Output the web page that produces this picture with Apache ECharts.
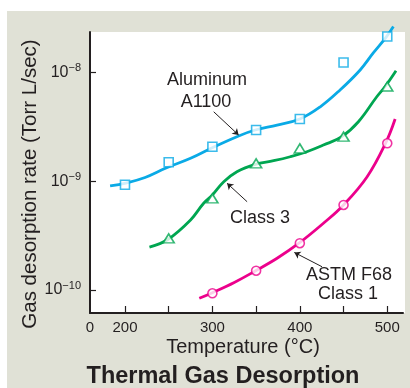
<!DOCTYPE html>
<html>
<head>
<meta charset="utf-8">
<script src="https://cdn.jsdelivr.net/npm/echarts@6/dist/echarts.min.js"></script>
<style>
  html, body { margin: 0; padding: 0; background: #fff; }
  #chart { width: 410px; height: 388px; }
</style>
</head>
<body>
<div id="chart"></div>
<script>
// Axis ticks / labels
const tempTicks = [200, 250, 300, 350, 400, 450, 500];
const tempLabels = [160, 200, 300, 400, 500]; // 160 is the axis origin, labelled "0"
const rateTicks = [1e-10, 1e-9, 1e-8];

// Aluminum A1100 (blue squares + fitted curve)
const aluminumT = [200, 250, 300, 350, 400, 450, 500];
const aluminumV = [9.3e-10, 1.5e-9, 2.08e-9, 2.97e-9, 3.75e-9, 1.24e-8, 2.15e-8];
const aluminumCurveT = [183, 201, 223, 247, 275, 301, 330, 349, 374, 400, 423, 446, 469, 484, 499, 507];
const aluminumCurveV = [9.08e-10, 9.66e-10, 1.086e-9, 1.327e-9, 1.63e-9, 2.06e-9, 2.62e-9, 2.97e-9,
  3.3e-9, 3.75e-9, 4.83e-9, 6.93e-9, 1.06e-8, 1.52e-8, 2.14e-8, 2.66e-8];

// Class 3 (green triangles + curve)
const class3T = [250, 300, 350, 400, 450, 500];
const class3V = [2.99e-10, 6.98e-10, 1.465e-9, 2.01e-9, 2.58e-9, 7.46e-9];
const class3CurveT = [228, 249, 275, 290, 300, 313, 328, 349, 370, 389, 408, 427, 448, 467, 488, 498, 510];
const class3CurveV = [2.48e-10, 2.92e-10, 4.42e-10, 6.3e-10, 7.5e-10, 9.93e-10, 1.227e-9, 1.435e-9,
  1.55e-9, 1.686e-9, 1.875e-9, 2.16e-9, 2.58e-9, 3.54e-9, 6.01e-9, 7.55e-9, 1.043e-8];

// ASTM F68 Class 1 (pink circles + curve)
const f68T = [300, 350, 400, 450, 500];
const f68V = [9.35e-11, 1.507e-10, 2.7e-10, 6.07e-10, 2.24e-9];
const f68CurveT = [285, 300, 325, 349, 374, 399, 427, 450, 477, 498, 509];
const f68CurveV = [8.41e-11, 9.46e-11, 1.175e-10, 1.5e-10, 1.963e-10, 2.7e-10, 4.12e-10, 6.07e-10,
  1.104e-9, 2.24e-9, 3.75e-9];

// Pointer arrows: [startT, startV, endT, endV]
const aluminumArrow = [301.5, 4.37e-9, 330, 2.67e-9];
const class3Arrow = [339.7, 6.5e-10, 316.8, 9.61e-10];
const f68Arrow = [425.4, 1.64e-10, 393.7, 2.22e-10];

const BLUE = '#0aaae6';
const GREEN = '#00a651';
const PINK = '#ec008c';
const INK = '#231f20';
const FONT = '"Liberation Sans", Arial, sans-serif';

const zip = (xs, ys) => xs.map((x, i) => [x, ys[i]]);

function curve(name, xs, ys, color, arrow) {
  return {
    name,
    type: 'line',
    data: zip(xs, ys),
    smooth: 0.4,
    symbol: 'none',
    clip: false,
    lineStyle: { color, width: 2.8 },
    z: 3,
    markLine: {
      silent: true,
      symbol: ['none', 'arrow'],
      symbolSize: 6,
      label: { show: false },
      lineStyle: { color: INK, width: 1, type: 'solid' },
      data: [[{ coord: [arrow[0], arrow[1]] }, { coord: [arrow[2], arrow[3]] }]],
    },
  };
}

function markers(name, xs, ys, color, symbol, size) {
  return {
    name,
    type: 'scatter',
    data: zip(xs, ys),
    symbol,
    symbolSize: size,
    clip: false,
    itemStyle: { color: '#fff', borderColor: color, borderWidth: 1.6 },
    z: 4,
  };
}

const chart = echarts.init(document.getElementById('chart'));

chart.setOption({
  animation: false,
  backgroundColor: '#fff',
  textStyle: { fontFamily: FONT },
  grid: { left: 90, right: 7, top: 32, bottom: 75 },
  graphic: [
    { type: 'rect', z: -10, silent: true, shape: { x: 7, y: 11, width: 403, height: 377 }, style: { fill: '#e0e1d6' } },
    { type: 'rect', z: -9, silent: true, shape: { x: 90, y: 32, width: 315, height: 281 }, style: { fill: '#fff' } },
    { type: 'text', x: 30, y: 184, rotation: Math.PI / 2,
      style: { text: 'Gas desorption rate (Torr L/sec)', font: '20.5px ' + FONT, fill: INK, align: 'center', verticalAlign: 'middle' } },
    { type: 'text', x: 243, y: 347,
      style: { text: 'Temperature (\u00B0C)', font: '20px ' + FONT, fill: INK, align: 'center', verticalAlign: 'middle' } },
    { type: 'text', x: 223, y: 377,
      style: { text: 'Thermal Gas Desorption', font: 'bold 23.5px ' + FONT, fill: INK, align: 'center', verticalAlign: 'middle' } },
    { type: 'text', x: 207, y: 80,
      style: { text: 'Aluminum', font: '18px ' + FONT, fill: INK, align: 'center', verticalAlign: 'middle' } },
    { type: 'text', x: 206, y: 102,
      style: { text: 'A1100', font: '18px ' + FONT, fill: INK, align: 'center', verticalAlign: 'middle' } },
    { type: 'text', x: 260, y: 218.5,
      style: { text: 'Class 3', font: '18px ' + FONT, fill: INK, align: 'center', verticalAlign: 'middle' } },
    { type: 'text', x: 349, y: 275,
      style: { text: 'ASTM F68', font: '18px ' + FONT, fill: INK, align: 'center', verticalAlign: 'middle' } },
    { type: 'text', x: 348, y: 294,
      style: { text: 'Class 1', font: '18px ' + FONT, fill: INK, align: 'center', verticalAlign: 'middle' } },
  ],
  xAxis: {
    type: 'value',
    min: 160,
    max: 518,
    axisLine: { show: true, lineStyle: { color: INK, width: 2 } },
    axisTick: { show: true, inside: true, length: 7, customValues: tempTicks, lineStyle: { color: INK, width: 1.2 } },
    axisLabel: {
      customValues: tempLabels,
      margin: 7,
      fontSize: 15,
      color: INK,
      formatter: v => (v === 160 ? '0' : String(v)),
    },
    splitLine: { show: false },
  },
  yAxis: {
    type: 'log',
    logBase: 10,
    min: 6.155e-11,
    max: 2.368e-8,
    axisLine: { show: true, lineStyle: { color: INK, width: 2 } },
    axisTick: { show: true, inside: true, length: 6, customValues: rateTicks, lineStyle: { color: INK, width: 1.2 } },
    axisLabel: {
      customValues: rateTicks,
      margin: 9,
      color: INK,
      formatter: v => '{b|10}{s|\u2212' + Math.round(-Math.log10(v)) + '}',
      rich: {
        b: { fontSize: 16, color: INK, lineHeight: 20 },
        s: { fontSize: 11, color: INK, verticalAlign: 'top', lineHeight: 20, padding: [0, 0, 10, 0] },
      },
    },
    splitLine: { show: false },
  },
  series: [
    curve('Aluminum A1100', aluminumCurveT, aluminumCurveV, BLUE, aluminumArrow),
    curve('Class 3', class3CurveT, class3CurveV, GREEN, class3Arrow),
    curve('ASTM F68 Class 1', f68CurveT, f68CurveV, PINK, f68Arrow),
    markers('Aluminum A1100 data', aluminumT, aluminumV, BLUE, 'rect', 9),
    markers('Class 3 data', class3T, class3V, GREEN, 'triangle', [11, 9]),
    markers('ASTM F68 Class 1 data', f68T, f68V, PINK, 'circle', 9),
  ],
});

window.addEventListener('resize', () => chart.resize());
</script>
</body>
</html>
